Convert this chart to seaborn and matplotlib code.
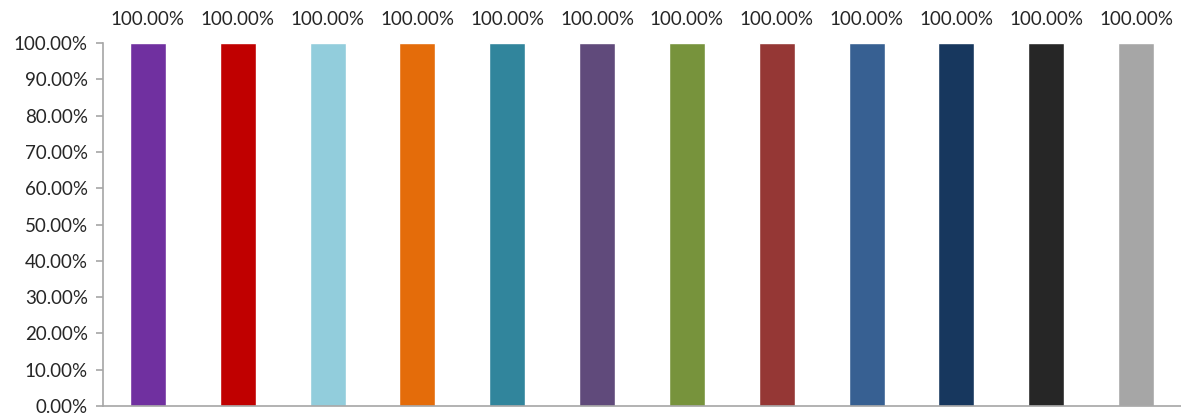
import matplotlib
matplotlib.use("Agg")
import matplotlib.pyplot as plt
import seaborn as sns
import pandas as pd
from matplotlib.ticker import FuncFormatter, MultipleLocator

categories = [f"C{i+1}" for i in range(12)]
values = [100.0] * 12
colors = ["#7030A0", "#C00000", "#92CDDC", "#E46C0A", "#31859C", "#604A7B",
          "#77933C", "#953735", "#376092", "#17375E", "#262626", "#A6A6A6"]

df = pd.DataFrame({"cat": categories, "val": values})

sns.set_style("white")
plt.rcParams["font.family"] = ["Lato", "DejaVu Sans"]

fig = plt.figure(figsize=(11.81, 4.17), dpi=100)
ax = fig.add_axes([103/1181, 1 - 406/417, 1 - 103/1181, (406 - 43)/417])
sns.barplot(data=df, x="cat", y="val", hue="cat", palette=colors, dodge=False,
            width=0.4, legend=False, ax=ax, saturation=1)
ax.set_xlim(-0.5, 11.5)
ax.set_ylim(0, 100)
ax.yaxis.set_major_locator(MultipleLocator(10))
ax.yaxis.set_major_formatter(FuncFormatter(lambda v, p: f"{v:.2f}%"))
ax.set_xlabel("")
ax.set_ylabel("")
ax.set_xticks([])
for s in ["top", "right"]:
    ax.spines[s].set_visible(False)
for s in ["left", "bottom"]:
    ax.spines[s].set_color("#A6A6A6")
    ax.spines[s].set_linewidth(1.2)
ax.tick_params(axis="y", direction="out", length=5, width=1.2, color="#A6A6A6",
               labelsize=13.5, pad=6, left=True)
for i, v in enumerate(values):
    ax.text(i, v + 4.2, f"{v:.2f}%", ha="center", va="bottom", fontsize=13.5, clip_on=False)

fig.savefig("out.png", dpi=100)
